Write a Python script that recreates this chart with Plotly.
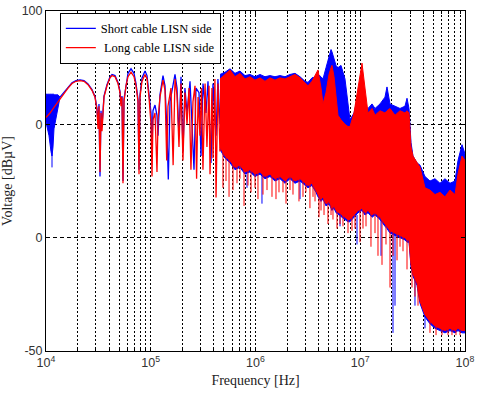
import plotly.graph_objects as go

# ---- data (frequency in Hz, level in dBuV) ----

# smooth low-frequency part, long cable (red)
long_lf_freq = [1.0e4, 1.092e4, 1.192e4, 1.302e4, 1.421e4, 1.485e4, 1.622e4, 1.771e4, 1.933e4, 2.112e4,
                2.306e4, 2.518e4, 2.749e4, 2.937e4, 3.069e4, 3.137e4, 3.206e4, 3.277e4, 3.35e4, 3.424e4,
                3.578e4, 3.822e4, 4.083e4, 4.267e4, 4.558e4, 4.868e4, 5.087e4, 5.2e4, 5.314e4, 5.433e4,
                5.553e4, 5.803e4, 6.065e4, 6.479e4, 6.92e4, 7.232e4, 7.557e4, 7.725e4, 7.896e4, 8.252e4,
                8.814e4, 9.21e4, 9.62e4, 1.006e5, 1.028e5, 1.05e5, 1.098e5, 1.147e5, 1.173e5, 1.225e5,
                1.309e5, 1.368e5, 1.42e5, 1.46e5, 1.56e5, 1.635e5, 1.704e5, 1.781e5, 1.86e5, 1.945e5,
                2.03e5, 2.12e5, 2.22e5, 2.32e5, 2.42e5, 2.53e5, 2.645e5, 2.74e5, 2.83e5, 2.95e5,
                3.05e5, 3.15e5, 3.30e5, 3.44e5, 3.60e5, 3.68e5, 3.84e5, 3.93e5, 4.10e5, 4.20e5,
                4.38e5, 4.58e5, 4.79e5]
long_lf_db = [53, 55, 57.5, 60, 62.5, 64, 66, 68, 69, 69.3,
              69, 67.5, 65, 62, 56, 48, 58, 29, 55, 47,
              62, 67, 70.5, 71.5, 71, 68, 64, 58, 62, 24,
              60, 67, 71, 73, 71, 67, 60, 28, 62, 69,
              72, 70, 62, 50, 27, 52, 55, 29, 52, 62,
              69.5, 65, 34, 58, 66, 32, 70, 63, 40, 68,
              34, 64, 50, 66, 30, 60, 67, 26, 62, 45,
              66, 30, 68, 40, 67, 28, 66, 35, 70, 17.7,
              68, 38, 70]

# smooth low-frequency part, short cable (blue)
short_lf_freq = [1.36e4, 1.485e4, 1.622e4, 1.771e4, 1.933e4, 2.112e4, 2.306e4, 2.518e4, 2.749e4, 2.937e4,
                 3.069e4, 3.137e4, 3.206e4, 3.277e4, 3.35e4, 3.424e4, 3.578e4, 3.822e4, 4.083e4, 4.267e4,
                 4.558e4, 4.868e4, 5.087e4, 5.2e4, 5.314e4, 5.433e4, 5.553e4, 5.803e4, 6.065e4, 6.479e4,
                 6.92e4, 7.232e4, 7.557e4, 7.725e4, 7.896e4, 8.252e4, 8.814e4, 9.21e4, 9.62e4, 1.006e5,
                 1.028e5, 1.05e5, 1.098e5, 1.147e5, 1.173e5, 1.225e5, 1.309e5, 1.368e5, 1.42e5, 1.471e5,
                 1.527e5, 1.631e5, 1.704e5, 1.781e5, 1.86e5, 1.945e5, 2.03e5, 2.12e5, 2.22e5, 2.371e5,
                 2.477e5, 2.588e5, 2.704e5, 2.888e5, 3.018e5, 3.154e5, 3.37e5, 3.52e5, 3.759e5, 3.928e5,
                 4.2e5, 4.38e5, 4.58e5, 4.79e5]
short_lf_db = [62, 64, 66.3, 68.3, 69.3, 69.6, 69.3, 67.8, 65.3, 62.3,
               57, 50, 59, 27, 56, 49, 62.5, 67.5, 71, 72,
               71.5, 68.5, 64.5, 59, 62.5, 25, 61, 68, 72.5, 74.5,
               72.5, 68, 61, 30, 63, 70.5, 73.5, 71.5, 63, 55,
               40, 56, 58.5, 54, 45, 63, 71.5, 67, 50, 25.7,
               60, 67, 72, 66, 45, 71, 38, 66, 55, 69,
               50, 30, 66, 64, 36, 68, 55, 69, 33, 68,
               45, 70, 50, 72]

# dense blue patch at the very start (short cable)
short_start_freq = [1.0e4, 1.022e4, 1.045e4, 1.068e4, 1.092e4, 1.116e4, 1.141e4, 1.166e4, 1.192e4, 1.246e4, 1.302e4, 1.36e4]
short_start_hi = [62.7, 63.5, 63, 63.5, 63, 63.5, 63, 63.5, 63, 63, 63, 62]
short_start_lo = [51, 50, 47, 45, 42, 38, 36, 40, 48, 53, 57, 62]

# dense part of the spectrum: envelope of the traces
band_freq = [4.58e5, 5.12e5, 5.71e5, 6.37e5, 7.11e5, 7.94e5, 8.86e5, 9.89e5, 1.104e6, 1.232e6,
             1.375e6, 1.535e6, 1.713e6, 1.912e6, 2.135e6, 2.383e6, 2.66e6, 2.97e6, 3.17e6, 3.46e6,
             3.78e6, 3.95e6, 4.22e6, 4.41e6, 4.71e6, 5.03e6, 5.26e6, 5.37e6, 5.62e6, 5.87e6,
             6.13e6, 6.55e6, 7.15e6, 7.64e6, 7.98e6, 8.71e6, 9.52e6, 1.039e7, 1.11e7, 1.186e7,
             1.295e7, 1.383e7, 1.544e7, 1.722e7, 1.8e7, 1.923e7, 2.147e7, 2.396e7, 2.673e7, 2.795e7,
             2.921e7, 3.051e7, 3.189e7, 3.48e7, 3.72e7, 4.15e7, 4.63e7, 5.17e7, 5.77e7, 6.44e7,
             7.19e7, 8.03e7, 8.57e7, 9.36e7, 1.0e8]
long_hi = [70, 72, 74, 71, 72.5, 70, 71, 69.5, 70.5, 69,
           70.5, 69.5, 70.5, 70, 71, 72, 70.5, 68.5, 67, 69,
           72, 74, 66, 59, 64, 72, 75, 76, 71, 62,
           54, 52, 50, 49, 49, 55, 66, 77, 66, 55,
           57, 54, 56, 55, 56, 57, 54, 56, 55, 56,
           55, 40, 36, 33, 31, 22, 21, 19, 20, 18,
           21, 19, 28, 36, 34]
long_lo = [40, 36, 34, 31, 32, 29, 30, 28, 29, 27,
           28, 26, 27, 25, 27, 25, 26, 24, 23, 24,
           21, 19, 17, 18, 15, 16, 14, 13, 14, 12,
           11, 10, 9, 8, 8, 10, 12, 13, 11, 12,
           10, 11, 9, 6, 5, 3, 2, 1, 0, -1,
           -1, -12, -16, -20, -28, -34, -37, -39, -40, -41,
           -40, -41, -40, -41, -41]
short_hi = [72, 73, 74.5, 72.5, 73.5, 71.5, 72, 71, 72, 71,
            71.5, 71, 71.5, 71, 72, 72.5, 71, 69, 68.5, 70.5,
            71, 72, 71, 70, 75, 80, 83, 82, 79, 76,
            75, 76, 70, 60, 52, 55, 62, 60, 58, 57,
            59, 57, 59, 62, 66.5, 59, 58, 57, 58, 61.5,
            57, 42, 36, 33, 32, 27, 25, 26, 24, 26,
            24, 25, 34, 41, 37]
short_lo = [39, 35, 33, 30, 31, 28, 29, 27, 28, 26,
            27, 25, 26, 24, 26, 24, 25, 23, 22, 23,
            20, 18, 16, 17, 14, 15, 13, 12, 13, 11,
            10, 9, 8, 7, 7, 9, 11, 12, 10, 11,
            9, 10, 8, 5, 4, 2, 1, 0, -1, -2,
            -2, -13, -17, -21, -29, -35, -38, -40, -41, -42,
            -41, -42, -41, -42, -42]

# single deep notches hanging below the dense band
long_spike_freq = [4.89e5, 5.23e5, 5.59e5, 6.10e5, 6.66e5, 7.11e5, 7.77e5, 8.48e5, 9.06e5, 9.89e5,
                   1.056e6, 1.179e6, 1.288e6, 1.437e6, 1.569e6, 1.676e6, 1.83e6, 1.956e6, 2.135e6, 2.28e6,
                   2.60e6, 2.84e6, 3.03e6, 3.31e6, 3.54e6, 3.70e6, 4.04e6, 4.22e6, 4.51e6, 4.92e6,
                   5.26e6, 5.49e6, 6.00e6, 6.41e6, 6.84e6, 7.64e6, 8.34e6, 8.91e6, 9.94e6, 1.062e7,
                   1.135e7, 1.266e7, 1.383e7, 1.477e7, 1.613e7, 1.761e7, 1.923e7, 2.054e7, 2.244e7, 2.396e7,
                   2.56e7, 2.795e7, 3.12e7, 3.33e7, 3.56e7, 4.63e7, 5.29e7, 6.03e7, 6.88e7, 7.51e7,
                   8.2e7, 8.96e7]
long_spike_top = [40, 36, 35, 34, 33, 32, 30, 30, 30, 28,
                  30, 28, 27, 28, 26, 27, 25, 26, 27, 26,
                  26, 25, 24, 24, 24, 22, 20, 17, 18, 16,
                  14, 14, 12, 10, 10, 9, 9, 10, 13, 13,
                  12, 11, 11, 10, 9, 7, 4, 2, 2, 1,
                  1, 0, -14, -18, -22, -37, -39, -40, -40, -40,
                  -41, -41]
long_spike_db = [22, 25, 18, 21, 24, 26, 14, 23, 20, 22,
                 17, 19, 21, 18, 17, 20, 20, 15, 21, 19,
                 16, 18, 20, 13, 18, 16, 9, 12, 10, 6,
                 10, 8, 4, 6, 5, 2, 3, 4, -2, 4,
                 5, -4, 2, -8, -12, -3, -22, -8, -10, -4,
                 -6, -14, -22, -26, -30, -42, -43, -43, -43, -43,
                 -43, -43]

short_spike_freq = [1.141e4, 8.30e5, 1.153e6, 2.66e6, 6.41e6, 9.31e6, 1.578e7, 2.054e7, 2.147e7, 3.33e7, 4.15e7]
short_spike_top = [40, 28, 28, 25, 12, 10, 9, 4, 4, -18, -34]
short_spike_db = [31, 22, 15, 17, 5, -3, -8, -42, -30, -30, -40]

BLUE = "#0000ff"
RED = "#ff0000"


def band_trace(freq, hi, lo, color):
    """closed polygon between upper and lower envelope"""
    return go.Scatter(x=freq + freq[::-1], y=hi + lo[::-1], mode="lines", fill="toself",
                      fillcolor=color, line=dict(color=color, width=1),
                      showlegend=False, hoverinfo="skip")


def spike_trace(freq, top, bottom, color):
    xs, ys = [], []
    for f, t, b in zip(freq, top, bottom):
        xs += [f, f, None]
        ys += [t, b, None]
    return go.Scatter(x=xs, y=ys, mode="lines", line=dict(color=color, width=1),
                      showlegend=False, hoverinfo="skip")


fig = go.Figure()

# short cable first, long cable drawn on top
fig.add_trace(band_trace(short_start_freq, short_start_hi, short_start_lo, BLUE))
fig.add_trace(band_trace(band_freq, short_hi, short_lo, BLUE))
fig.add_trace(go.Scatter(x=short_lf_freq, y=short_lf_db, mode="lines",
                         name="Short cable LISN side",
                         line=dict(color=BLUE, width=1.3)))
fig.add_trace(spike_trace(short_spike_freq, short_spike_top, short_spike_db, BLUE))

fig.add_trace(band_trace(band_freq, long_hi, long_lo, RED))
fig.add_trace(go.Scatter(x=long_lf_freq, y=long_lf_db, mode="lines",
                         name="\u00a0Long cable LISN side",
                         line=dict(color=RED, width=1.3)))
fig.add_trace(spike_trace(long_spike_freq, long_spike_top, long_spike_db, RED))

minor_vals = [m * 10 ** e for e in range(4, 8) for m in range(2, 10)]

fig.update_layout(
    width=480, height=395,
    margin=dict(l=46, r=15, t=11, b=44),
    paper_bgcolor="white", plot_bgcolor="white",
    font=dict(family="Liberation Sans", size=12.5, color="#333333"),
    legend=dict(x=0.033, y=0.995, xanchor="left", yanchor="top",
                bgcolor="white", bordercolor="black", borderwidth=1,
                font=dict(family="Liberation Serif", size=12.5, color="black"),
                tracegroupgap=0, itemwidth=30,
                entrywidth=165, entrywidthmode="pixels"),
)

fig.update_xaxes(
    type="log", range=[4, 8], automargin=False,
    tickmode="array",
    tickvals=[1e4, 1e5, 1e6, 1e7, 1e8],
    ticktext=["10<sup>4</sup>", "10<sup>5</sup>", "10<sup>6</sup>", "10<sup>7</sup>", "10<sup>8</sup>"],
    ticks="inside", ticklen=4, tickcolor="black",
    showline=True, linecolor="black", linewidth=1, mirror="ticks",
    showgrid=True, gridcolor="black", gridwidth=1, griddash="2px,2px",
    minor=dict(tickmode="array", tickvals=minor_vals, ticks="inside", ticklen=3,
               tickcolor="black", showgrid=True, gridcolor="black", gridwidth=1,
               griddash="2px,2px"),
    zeroline=False,
    title=dict(text="Frequency [Hz]", standoff=6,
               font=dict(family="Liberation Serif", size=14, color="#222222")),
)

fig.update_yaxes(
    range=[-50, 100], automargin=False,
    tickmode="array",
    tickvals=[-50, 0, 50, 100],
    ticktext=["-50", "0", "0", "100"],
    ticks="inside", ticklen=4, tickcolor="black",
    showline=True, linecolor="black", linewidth=1, mirror="ticks",
    showgrid=True, gridcolor="black", gridwidth=1, griddash="4px,3px",
    zeroline=False,
    title=dict(text="Voltage [dBµV]", standoff=6,
               font=dict(family="Liberation Serif", size=14, color="#222222")),
)

# page body has a default 8px margin; drop it so the figure sits at the window corner
fig.write_html("out.html", config={"displayModeBar": False},
               post_script="document.body.style.margin='0';")
